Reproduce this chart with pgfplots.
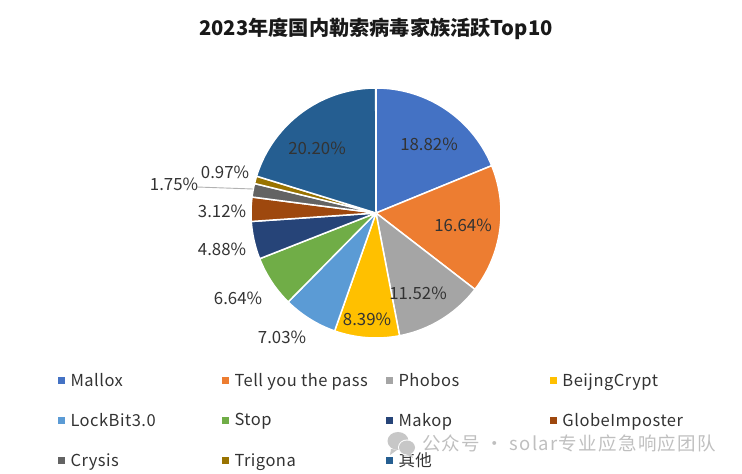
\documentclass[border=0pt]{standalone}
\usepackage{pgfplots}
\pgfplotsset{compat=1.18}
\usepackage{fontspec}
\setmainfont{Noto Sans CJK SC}
\newfontfamily\spaced[LetterSpace=3]{Noto Sans CJK SC}
\newfontfamily\wm[LetterSpace=7]{Noto Sans CJK SC}
\definecolor{c1}{HTML}{4472C4}
\definecolor{c2}{HTML}{ED7D31}
\definecolor{c3}{HTML}{A5A5A5}
\definecolor{c4}{HTML}{FFC000}
\definecolor{c5}{HTML}{5B9BD5}
\definecolor{c6}{HTML}{70AD47}
\definecolor{c7}{HTML}{264478}
\definecolor{c8}{HTML}{9E480E}
\definecolor{c9}{HTML}{636363}
\definecolor{c10}{HTML}{997300}
\definecolor{c11}{HTML}{255E91}
\definecolor{lab}{HTML}{333333}
\def\cx{376}\def\cy{213}\def\rr{125}
\gdef\cum{0}
% #1 share in percent, #2 colour, #3 legend name
\newcommand\slice[3]{%
  \pgfmathsetmacro\aa{\cum*3.6}%
  \pgfmathsetmacro\bb{(\cum+#1)*3.6}%
  \pgfmathtruncatemacro\nn{max(2,ceil((\bb-\aa)/2))}%
  \xdef\coords{(\cx,\cy)}%
  \pgfplotsforeachungrouped \k in {0,...,\nn}{%
    \pgfmathsetmacro\th{\aa+(\bb-\aa)*\k/\nn}%
    \pgfmathsetmacro\px{\cx+\rr*sin(\th)}%
    \pgfmathsetmacro\py{\cy-\rr*cos(\th)}%
    \xdef\coords{\coords (\px,\py)}%
  }%
  \edef\temp{\noexpand\addplot[fill=#2,draw=white,line width=1.5pt,line join=round] coordinates {\coords (\cx,\cy)};}%
  \temp
  \addlegendentry{\makebox[\legw][l]{\hspace{5pt}#3}}%
  \pgfmathsetmacro\newcum{\cum+#1}\xdef\cum{\newcum}%
}
\newlength\legw \setlength\legw{155pt}
\newcommand\lbl[3]{\node[font=\fontsize{16.8}{19}\selectfont,text=lab,inner sep=0pt] at (axis cs:#1,#2) {#3};}
\begin{document}
\begin{tikzpicture}
\useasboundingbox (0,0) rectangle (742pt,474pt);
\fill[white] (0,0) rectangle (742pt,474pt);
\begin{axis}[
  at={(0,0)},anchor=south west,
  scale only axis,width=742pt,height=474pt,
  xmin=0,xmax=742,ymin=0,ymax=474,y dir=reverse,
  hide axis,clip=false,
  legend columns=4,
  legend cell align=left,
  legend image code/.code={\fill[#1,draw=none] (0pt,-3.5pt) rectangle (7pt,3.5pt);},
  legend style={at={(axis cs:57.5,372.5)},anchor=north west,draw=none,fill=none,
    font=\fontsize{16.5}{19}\selectfont\spaced,text=lab,
    inner sep=0pt,outer sep=0pt,row sep=23pt,
    nodes={inner sep=1pt}},
]
\slice{18.82}{c1}{Mallox}
\slice{16.64}{c2}{Tell you the pass}
\slice{11.52}{c3}{Phobos}
\slice{8.39}{c4}{BeijngCrypt}
\slice{7.03}{c5}{LockBit3.0}
\slice{6.64}{c6}{Stop}
\slice{4.88}{c7}{Makop}
\slice{3.12}{c8}{GlobeImposter}
\slice{1.75}{c9}{Crysis}
\slice{0.97}{c10}{Trigona}
\slice{20.20}{c11}{其他}
\addplot[forget plot,color=black!30,line width=0.9pt] coordinates {(197,187) (253,189)};
\lbl{429}{144}{18.82\%}
\lbl{463}{225}{16.64\%}
\lbl{418}{293}{11.52\%}
\lbl{367}{319}{8.39\%}
\lbl{282}{337}{7.03\%}
\lbl{238}{298}{6.64\%}
\lbl{222}{249}{4.88\%}
\lbl{222}{211}{3.12\%}
\lbl{174}{184}{1.75\%}
\lbl{225}{172}{0.97\%}
\lbl{317}{148}{20.20\%}
\node[font=\fontsize{20.2}{24}\selectfont\bfseries,text=black!90,inner sep=0pt] at (axis cs:376,29) {2023年度国内勒索病毒家族活跃Top10};
\end{axis}
% watermark
\begin{scope}[shift={(0,474pt)},y=-1pt,x=1pt]
\fill[black!22] (398,441) ellipse [x radius=10.5,y radius=9];
\fill[black!22] (391,449) -- (390,455) -- (397,450) -- cycle;
\fill[white] (407,447.5) ellipse [x radius=9,y radius=8];
\fill[black!22] (407,447.5) ellipse [x radius=8,y radius=7];
\fill[black!22] (411,453) -- (413,458) -- (406,454) -- cycle;
\node[anchor=west,inner sep=0pt,font=\fontsize{18.5}{22}\selectfont\wm,text=black,opacity=0.25] at (422,443) {公众号 · solar专业应急响应团队};
\end{scope}
\end{tikzpicture}
\end{document}
